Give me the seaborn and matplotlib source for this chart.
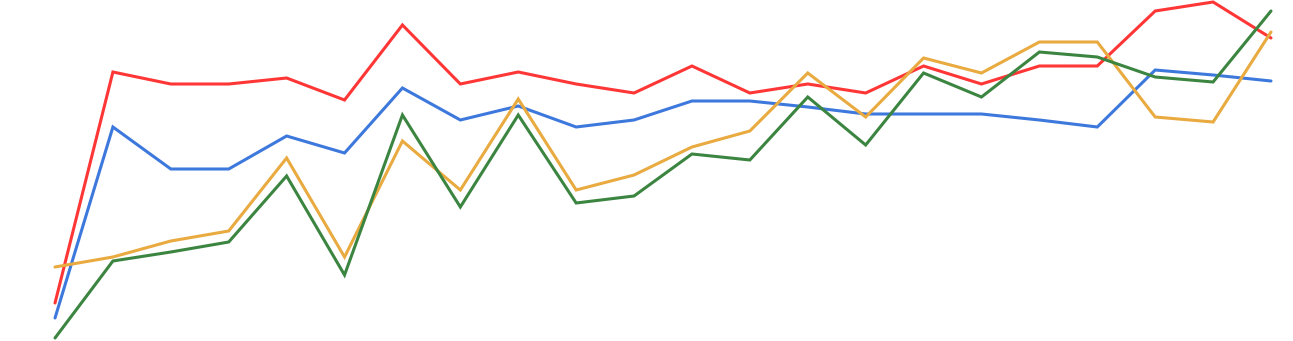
import matplotlib
matplotlib.use("Agg")
import matplotlib.pyplot as plt
import seaborn as sns
import pandas as pd

# x index (22 periods)
periods = list(range(22))

# values (higher = higher on chart)
red = [38, 269, 257, 257, 263, 241, 316, 257, 269, 257, 248, 275, 248, 257, 248, 275, 257, 275, 275, 330, 339, 303]
blue = [23, 214, 172, 172, 205, 188, 253, 221, 235, 214, 221, 240, 240, 234, 227, 227, 227, 221, 214, 271, 266, 260]
orange = [74, 84, 100, 110, 183, 84, 200, 151, 242, 151, 166, 194, 210, 268, 224, 283, 268, 299, 299, 224, 219, 309]
green = [3, 80, 89, 99, 165, 66, 226, 134, 226, 138, 145, 187, 181, 244, 196, 268, 244, 289, 284, 264, 259, 330]

series_names = ["red", "blue", "orange", "green"]
series_values = [red, blue, orange, green]
colors = ["#ff3636", "#3d78dc", "#e9aa40", "#3b8541"]

rows = []
for name, vals in zip(series_names, series_values):
    for x, v in zip(periods, vals):
        rows.append({"x": x, "y": v, "series": name})
df = pd.DataFrame(rows)

sns.set_style("white")
fig = plt.figure(figsize=(12.93, 3.41), dpi=100)
ax = fig.add_axes([0, 0, 1, 1])
sns.lineplot(data=df, x="x", y="y", hue="series", hue_order=series_names,
             palette=colors, linewidth=2.2, legend=False, ax=ax,
             estimator=None, sort=False)
for line in ax.get_lines():
    line.set_clip_on(False)
    line.set_solid_joinstyle("miter")
ax.set_xlim(-0.95, 21.38)
ax.set_ylim(0, 341)
ax.axis("off")
fig.savefig("out.png", dpi=100)
